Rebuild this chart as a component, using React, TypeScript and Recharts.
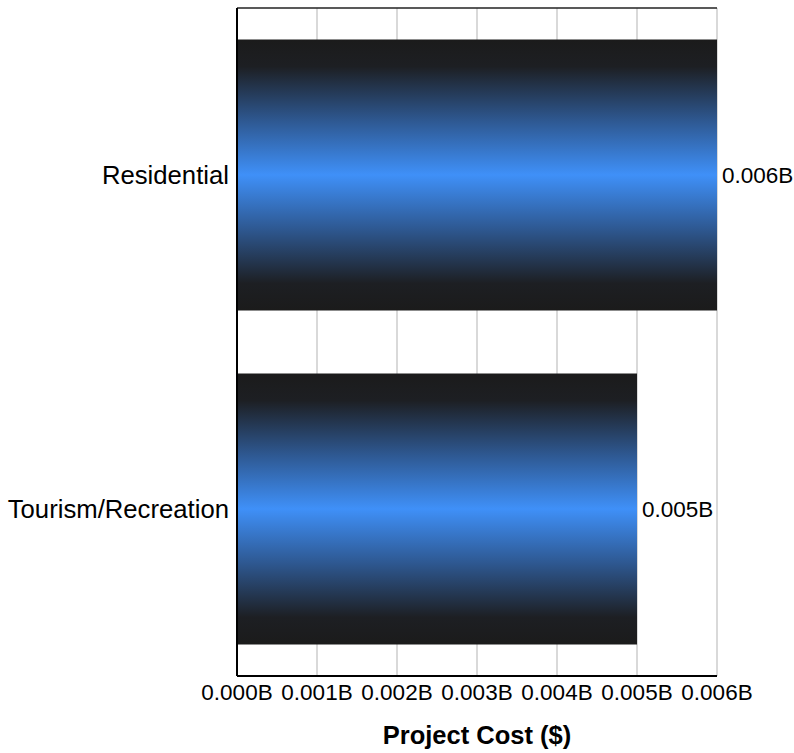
import { BarChart, Bar, XAxis, YAxis, CartesianGrid, LabelList } from 'recharts';

const categories = ['Residential', 'Tourism/Recreation'];
const costs = [0.006, 0.005]; // billions of dollars
const xTicks = [0, 0.001, 0.002, 0.003, 0.004, 0.005, 0.006];

const data = categories.map((name, i) => ({ name, cost: costs[i] }));

const fmt = (v: number) => `${v.toFixed(3)}B`;

export default function App() {
  return (
    <div style={{ position: 'absolute', left: 0, top: 0, fontFamily: '"Liberation Sans", Arial, sans-serif' }}>
      <BarChart
        width={794}
        height={753}
        data={data}
        layout="vertical"
        margin={{ top: 8, right: 77, bottom: 0, left: 0 }}
        barCategoryGap="9.4%"
      >
        <defs>
          <linearGradient id="barGrad" x1="0" y1="0" x2="0" y2="1">
            <stop offset="0%" stopColor="#1b1b1b" />
            <stop offset="10%" stopColor="#1d1f23" />
            <stop offset="30%" stopColor="#2e5891" />
            <stop offset="50%" stopColor="#3f90f8" />
            <stop offset="70%" stopColor="#2e5891" />
            <stop offset="90%" stopColor="#1d1f23" />
            <stop offset="100%" stopColor="#1b1b1b" />
          </linearGradient>
        </defs>
        <CartesianGrid horizontal={false} stroke="#cccccc" strokeWidth={1.5} />
        {/* dark frame line along the top of the plot */}
        <CartesianGrid
          vertical={false}
          stroke="#222"
          strokeWidth={1.5}
          horizontalCoordinatesGenerator={({ offset }: any) => [offset.top]}
        />
        <XAxis
          type="number"
          domain={[0, 0.006]}
          ticks={xTicks}
          tickFormatter={fmt}
          height={77}
          axisLine={{ stroke: '#000', strokeWidth: 2 }}
          tickLine={false}
          tick={{ fill: '#000', fontSize: 22.5 }}
          interval={0}
          label={{ value: 'Project Cost ($)', position: 'insideBottom', offset: 9, fill: '#000', fontSize: 25.5, fontWeight: 'bold' }}
        />
        <YAxis
          type="category"
          dataKey="name"
          width={237}
          axisLine={{ stroke: '#000', strokeWidth: 2 }}
          tickLine={false}
          tick={{ fill: '#000', fontSize: 25.7 }}
        />
        <Bar dataKey="cost" fill="url(#barGrad)" isAnimationActive={false}>
          <LabelList dataKey="cost" position="right" offset={5} formatter={(v: any) => fmt(Number(v))} fill="#000" fontSize={22.5} />
        </Bar>
      </BarChart>
    </div>
  );
}
